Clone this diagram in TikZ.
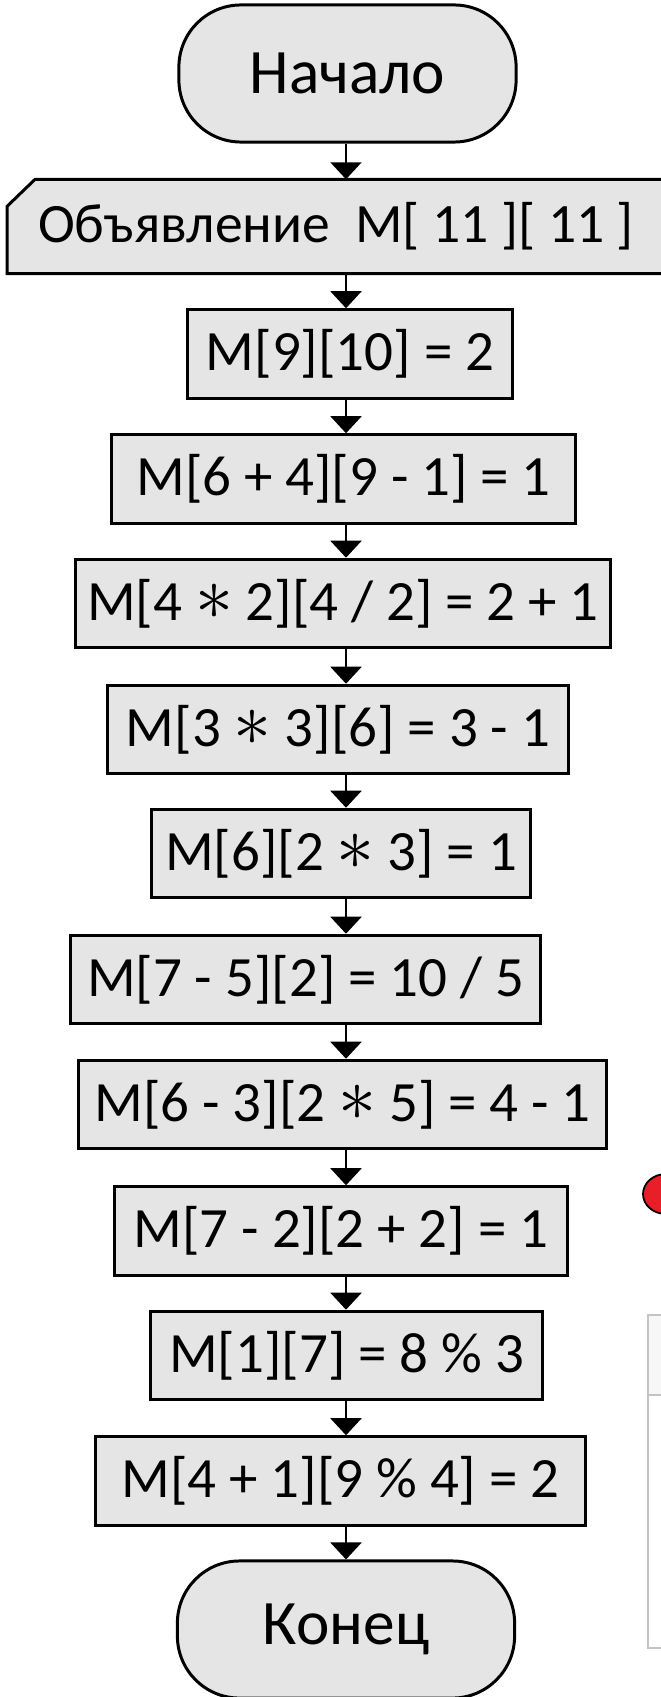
\documentclass[tikz,border=0pt]{standalone}
\usepackage{fontspec}
\setmainfont{Carlito}
\usepackage{tikz}
\usetikzlibrary{arrows.meta,positioning,backgrounds}
\definecolor{blobred}{RGB}{232,30,40}
\definecolor{panelgray}{RGB}{196,196,196}
\newcommand{\mul}{\raisebox{0.02em}{\scalebox{1.25}{$\ast$}}}

\begin{document}
\begin{tikzpicture}[x=0.01cm, y=-0.01cm,
    box/.style={draw, fill=gray!20, line width=0.85pt, minimum height=0.885cm, inner sep=0pt, font=\fontsize{16.2}{19}\selectfont},
    term/.style={draw, fill=gray!20, line width=0.85pt, rounded corners=0.62cm, minimum width=3.37cm, minimum height=1.37cm, inner sep=0pt, font=\fontsize{18}{22}\selectfont},
    flow/.style={line width=0.6pt, -{Triangle[width=0.31cm, length=0.17cm]}}]
    \clip (0,0) rectangle (661,1697);
    \coordinate (axis) at (346,0);

    % Start and declaration
    \node[term] (start) at (347.5,73.5) {Начало};
    \node[minimum width=6.56cm, minimum height=0.93cm, inner sep=0pt, font=\fontsize{15.8}{19}\selectfont] (decl) at (336,226.5) {Объявление~~M[ 11 ][ 11 ]};
    \begin{scope}[on background layer]
        \draw[fill=gray!20, line width=0.85pt] ([yshift=-0.27cm]decl.north west) -- ([xshift=0.28cm]decl.north west) -- (decl.north east) -- (decl.south east) -- (decl.south west) -- cycle;
    \end{scope}

    % Assignments
    \node[box, minimum width=3.24cm] (b1) at (350,354) {M[9][10] = 2};
    \node[box, minimum width=4.63cm] (b2) at (343.5,479) {M[6 + 4][9 - 1] = 1};
    \node[box, minimum width=5.34cm] (b3) at (343,603.5) {M[4 \mul\ 2][4 / 2] = 2 + 1};
    \node[box, minimum width=4.60cm] (b4) at (338,729.5) {M[3 \mul\ 3][6] = 3 - 1};
    \node[box, minimum width=3.78cm] (b5) at (341,853.5) {M[6][2 \mul\ 3] = 1};
    \node[box, minimum width=4.69cm] (b6) at (305.5,979.5) {M[7 - 5][2] = 10 / 5};
    \node[box, minimum width=5.27cm] (b7) at (342.5,1104.5) {M[6 - 3][2 \mul\ 5] = 4 - 1};
    \node[box, minimum width=4.52cm] (b8) at (341,1231) {M[7 - 2][2 + 2] = 1};
    \node[box, minimum width=3.91cm] (b9) at (346.5,1355.5) {M[1][7] = 8 \% 3};
    \node[box, minimum width=4.89cm] (b10) at (340.5,1481) {M[4 + 1][9 \% 4] = 2};

    % End
    \node[term] (end) at (346,1629.5) {Конец};

    % Connect nodes
    \draw[flow] (start.south -| axis) -- (decl.north -| axis);
    \draw[flow] (decl.south -| axis) -- (b1.north -| axis);
    \draw[flow] (b1.south -| axis) -- (b2.north -| axis);
    \draw[flow] (b2.south -| axis) -- (b3.north -| axis);
    \draw[flow] (b3.south -| axis) -- (b4.north -| axis);
    \draw[flow] (b4.south -| axis) -- (b5.north -| axis);
    \draw[flow] (b5.south -| axis) -- (b6.north -| axis);
    \draw[flow] (b6.south -| axis) -- (b7.north -| axis);
    \draw[flow] (b7.south -| axis) -- (b8.north -| axis);
    \draw[flow] (b8.south -| axis) -- (b9.north -| axis);
    \draw[flow] (b9.south -| axis) -- (b10.north -| axis);
    \draw[flow] (b10.south -| axis) -- (end.north -| axis);

    % Cut-off pieces at the right edge
    \draw[fill=blobred, line width=0.5pt] (666,1194) ellipse [x radius=0.23cm, y radius=0.20cm];
    \draw[panelgray, fill=gray!6, line width=0.4pt] (648,1315) rectangle (700,1395);
    \draw[panelgray, line width=0.4pt] (648,1395) rectangle (700,1648);
\end{tikzpicture}
\end{document}
